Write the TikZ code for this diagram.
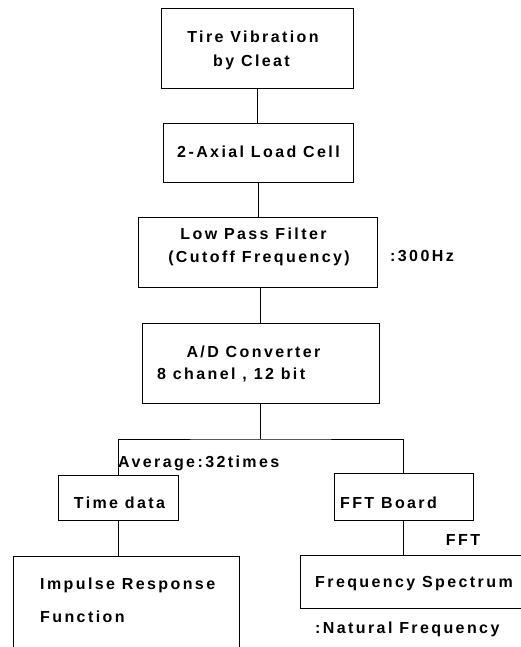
\documentclass[tikz,border=0pt]{standalone}
\usepackage{fontspec}
\setmainfont{Liberation Sans}[LetterSpace=15]
\begin{document}
\begin{tikzpicture}[x=1pt,y=-1pt,
  box/.style={draw, line width=1pt, inner sep=0pt},
  conn/.style={line width=1pt},
  txt/.style={inner sep=0pt, font=\fontsize{16}{19}\selectfont\bfseries},
  ctxt/.style={txt, anchor=base},
  ltxt/.style={txt, anchor=base west}]
\useasboundingbox (0,0) rectangle (521,647);
\fill[white] (0,0) rectangle (521,647);
\clip (0,0) rectangle (521,647);
% boxes
\node[box, minimum width=192pt, minimum height=80pt] (b1) at (257,49) {};
\node[box, minimum width=190pt, minimum height=58pt] (b2) at (258,153) {};
\node[box, minimum width=239pt, minimum height=70pt] (b3) at (257.5,252) {};
\node[box, minimum width=237pt, minimum height=80pt] (b4) at (260.5,363) {};
\node[box, minimum width=120pt, minimum height=45pt] (time) at (118,497.5) {};
\node[box, minimum width=139pt, minimum height=47pt] (fft) at (403.5,496.5) {};
\node[box, minimum width=226pt, minimum height=144pt] (imp) at (126,628) {};
\node[box, minimum width=800pt, minimum height=53pt] (spec) at (700,581.5) {};
% texts
\node[ctxt] (t1a) at (253,43) {Tire Vibration};
\node[ctxt] (t1b) at (251.5,67) {by Cleat};
\node[ctxt] (t2) at (258.5,158) {2-Axial Load Cell};
\node[ctxt] (t3a) at (253.5,239) {Low Pass Filter};
\node[ctxt] (t3b) at (259,262) {(Cutoff Frequency)};
\node[ltxt] (t3c) at (390,261) {:300Hz};
\node[ctxt] (t4a) at (253.5,357) {A/D Converter};
\node[ltxt] (t4b) at (157,379) {8 chanel , 12 bit};
\node[ltxt] (avg) at (118,467) {Average:32times};
\node[ctxt] (ttime) at (119.5,508) {Time data};
\node[ctxt] (tfft) at (388.5,508) {FFT Board};
\node[ctxt] (tfft2) at (463,545) {FFT};
\node[ltxt] (timpa) at (40,589) {Impulse Response};
\node[ltxt] (timpb) at (40,622) {Function};
\node[ltxt] (tspa) at (315,587) {Frequency Spectrum};
\node[ltxt] (tspb) at (315,633) {:Natural Frequency};
% connectors
\coordinate (split) at (260.5,439);
\draw[conn] (b1.south) -- (b1.south |- b2.north);
\draw[conn] (b2.south) -- (b2.south |- b3.north);
\draw[conn] (b4.north |- b3.south) -- (b4.north);
\draw[conn] (b4.south) -- (split);
\draw[conn] (time.north) |- (split) -| (fft.north);
\draw[conn] (time.south) -- (time.south |- imp.north);
\draw[conn] (fft.south) -- (fft.south |- spec.north);
\end{tikzpicture}
\end{document}
